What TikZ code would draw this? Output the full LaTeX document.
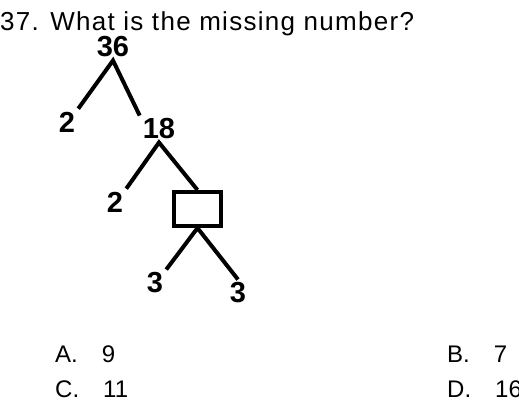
\documentclass[tikz,border=0pt]{standalone}
\usepackage{fontspec}
\setmainfont{Liberation Sans}
\usepackage{tikz}
\usetikzlibrary{positioning}

\begin{document}
\begin{tikzpicture}[x=1pt, y=-1pt,
    num/.style={font=\bfseries\fontsize{29}{32}\selectfont, inner sep=3pt},
    txt/.style={font=\fontsize{24}{28}\selectfont, anchor=base west, inner sep=0pt},
    branch/.style={line width=4pt}]
    \useasboundingbox (0,0) rectangle (519,416);

    % Question
    \node[txt, font=\fontsize{26}{30}\selectfont\addfontfeature{LetterSpace=5}] (title) at (0,30) {37. What is the missing number?};

    % Factor tree
    \node[num] (n36) at (113,47) {36};
    \node[num] (n2a) at (67,122) {2};
    \node[num] (n18) at (159,129) {18};
    \node[num] (n2b) at (115,202) {2};
    \node (box) [rectangle, draw, line width=4pt, minimum width=47pt, minimum height=34pt] at (197.5,209) {};
    \node[num] (n3a) at (155,283) {3};
    \node[num] (n3b) at (238,293) {3};

    \draw[branch] (n2a.north east) -- (n36.south) -- (n18.north west);
    \draw[branch] (n2b.north east) -- (n18.south) -- (box.north);
    \draw[branch] (n3a.north east) -- (box.south) -- (n3b.north);

    % Answer choices
    \node[txt] (optA) at (55,362) {A.\quad 9};
    \node[txt] (optC) at (55,397) {C.\quad 11};
    \node[txt] (optB) at (447,362) {B.\quad 7};
    \node[txt] (optD) at (447,397) {D.\quad 16};
\end{tikzpicture}
\end{document}
